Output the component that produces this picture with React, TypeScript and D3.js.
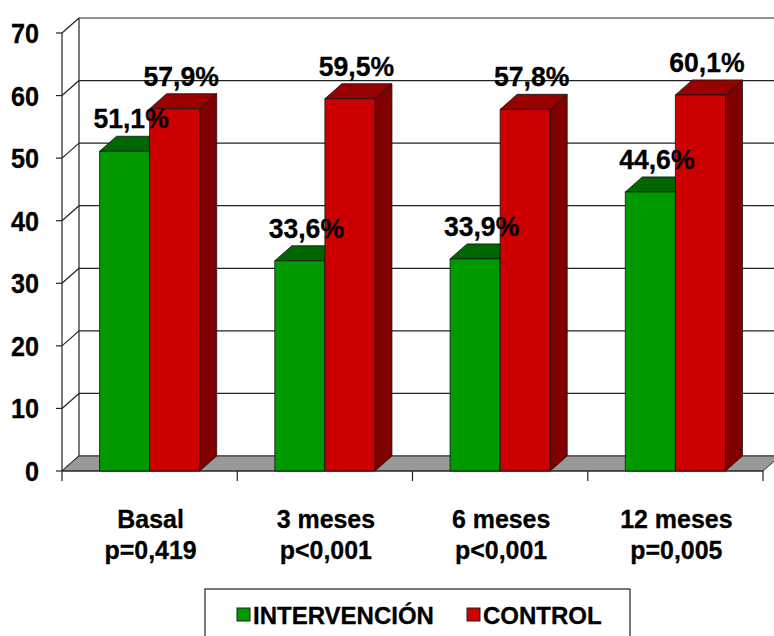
import * as d3 from "d3";

const categories = ["Basal", "3 meses", "6 meses", "12 meses"];
const pValues = ["p=0,419", "p<0,001", "p<0,001", "p=0,005"];
const seriesNames = ["INTERVENCIÓN", "CONTROL"];
const intervencion = [51.1, 33.6, 33.9, 44.6];
const control = [57.9, 59.5, 57.8, 60.1];
const yTicks = [0, 10, 20, 30, 40, 50, 60, 70];

const W = 774;
const H = 636;
const DX = 17; // depth offset of the 3D box
const DY = -15;
const FONT = "Arial, 'Liberation Sans', sans-serif";

const colors = {
  front: ["#009900", "#cc0000"],
  top: ["#006600", "#990000"],
  side: ["#006000", "#800000"],
};

const fmt = (v: number) => d3.format(".1f")(v).replace(".", ",") + "%";

// the original text is slightly narrow, so squeeze it a bit
function T(props: { x: number; y: number; size: number; sx?: number; anchor?: string; children: any }) {
  return (
    <text
      transform={`translate(${props.x},${props.y}) scale(${props.sx ?? 1},1)`}
      textAnchor={props.anchor ?? "start"}
      fontSize={props.size}
      stroke="#000"
      strokeWidth={0.3}
    >
      {props.children}
    </text>
  );
}

export default function App() {
  const x = d3.scaleBand<string>().domain(categories).range([62, 763]);
  const inner = d3
    .scaleBand<string>()
    .domain(seriesNames)
    .range([0, x.bandwidth()])
    .paddingOuter(0.75);
  const y = d3.scaleLinear().domain([0, 70]).range([471, 33]);

  const series = [intervencion, control];
  const y0 = y(0);
  const x0 = x.range()[0];
  const x1 = x.range()[1];

  const bars = categories.flatMap((c, i) =>
    seriesNames.map((s, k) => {
      const bx = (x(c) ?? 0) + (inner(s) ?? 0);
      const bw = inner.bandwidth();
      const v = series[k][i];
      return { c, s, k, bx, bw, v, ty: y(v) };
    }),
  );

  const poly = (pts: [number, number][]) => pts.map((p) => p.join(",")).join(" ");

  return (
    <svg
      width={W}
      height={H}
      style={{ position: "absolute", left: 0, top: 0, background: "#fff" }}
      fontFamily={FONT}
      fontWeight="bold"
    >
      {/* back wall gridlines */}
      {yTicks.map((t) => (
        <line
          key={"g" + t}
          x1={x0 + DX}
          x2={x1 + DX}
          y1={y(t) + DY}
          y2={y(t) + DY}
          stroke="#222"
          strokeWidth={1.2}
        />
      ))}
      {/* left wall diagonals */}
      {yTicks.map((t) => (
        <line
          key={"d" + t}
          x1={x0}
          x2={x0 + DX}
          y1={y(t)}
          y2={y(t) + DY}
          stroke="#222"
          strokeWidth={1.2}
        />
      ))}
      <line x1={x0 + DX} x2={x0 + DX} y1={y(0) + DY} y2={y(70) + DY} stroke="#222" strokeWidth={1.2} />
      {/* floor */}
      <polygon
        points={poly([
          [x0, y0],
          [x1, y0],
          [x1 + DX, y0 + DY],
          [x0 + DX, y0 + DY],
        ])}
        fill="#999999"
        stroke="#333"
        strokeWidth={1}
      />
      {/* front axis */}
      <line x1={x0} x2={x0} y1={y0} y2={y(70)} stroke="#222" strokeWidth={1.2} />
      <line x1={x0} x2={x1} y1={y0} y2={y0} stroke="#222" strokeWidth={1.2} />
      {yTicks.map((t) => (
        <line key={"t" + t} x1={x0 - 6} x2={x0} y1={y(t)} y2={y(t)} stroke="#222" strokeWidth={1.2} />
      ))}
      {[...categories.map((c) => x(c) ?? 0), x1].map((xx, i) => (
        <line key={"ct" + i} x1={xx} x2={xx} y1={y0} y2={y0 + 10} stroke="#222" strokeWidth={1.2} />
      ))}
      {/* bars */}
      {bars.map((b) => (
        <g key={b.c + b.s} stroke="#111" strokeWidth={0.8} strokeLinejoin="round">
          <polygon
            points={poly([
              [b.bx + b.bw, b.ty],
              [b.bx + b.bw + DX, b.ty + DY],
              [b.bx + b.bw + DX, y0 + DY],
              [b.bx + b.bw, y0],
            ])}
            fill={colors.side[b.k]}
          />
          <polygon
            points={poly([
              [b.bx, b.ty],
              [b.bx + DX, b.ty + DY],
              [b.bx + b.bw + DX, b.ty + DY],
              [b.bx + b.bw, b.ty],
            ])}
            fill={colors.top[b.k]}
          />
          <rect x={b.bx} y={b.ty} width={b.bw} height={y0 - b.ty} fill={colors.front[b.k]} />
        </g>
      ))}
      {/* data labels */}
      {bars.map((b) => (
        <T
          key={"l" + b.c + b.s}
          x={b.bx + b.bw / 2 + DX / 2 - 2}
          y={b.ty - 23}
          size={28}
          sx={0.95}
          anchor="middle"
        >
          {fmt(b.v)}
        </T>
      ))}
      {/* y labels */}
      {yTicks.map((t) => (
        <T key={"yl" + t} x={39} y={y(t) + 10} size={28} sx={0.9} anchor="end">
          {t}
        </T>
      ))}
      {/* category labels */}
      {categories.map((c, i) => {
        const cx = (x(c) ?? 0) + x.bandwidth() / 2 + 1;
        return (
          <g key={"cl" + c}>
            <T x={cx} y={528} size={26} sx={0.96} anchor="middle">
              {c}
            </T>
            <T x={cx} y={559} size={26} sx={0.96} anchor="middle">
              {pValues[i]}
            </T>
          </g>
        );
      })}
      {/* legend */}
      <rect x={205} y={589} width={425} height={70} fill="#fff" stroke="#222" strokeWidth={1.2} />
      {seriesNames.map((s, k) => {
        const lx = k === 0 ? 237 : 467;
        return (
          <g key={"lg" + s}>
            <rect x={lx} y={608} width={13} height={13} fill={colors.front[k]} stroke="#222" strokeWidth={1} />
            <T x={lx + 16} y={624} size={24}>
              {s}
            </T>
          </g>
        );
      })}
    </svg>
  );
}
